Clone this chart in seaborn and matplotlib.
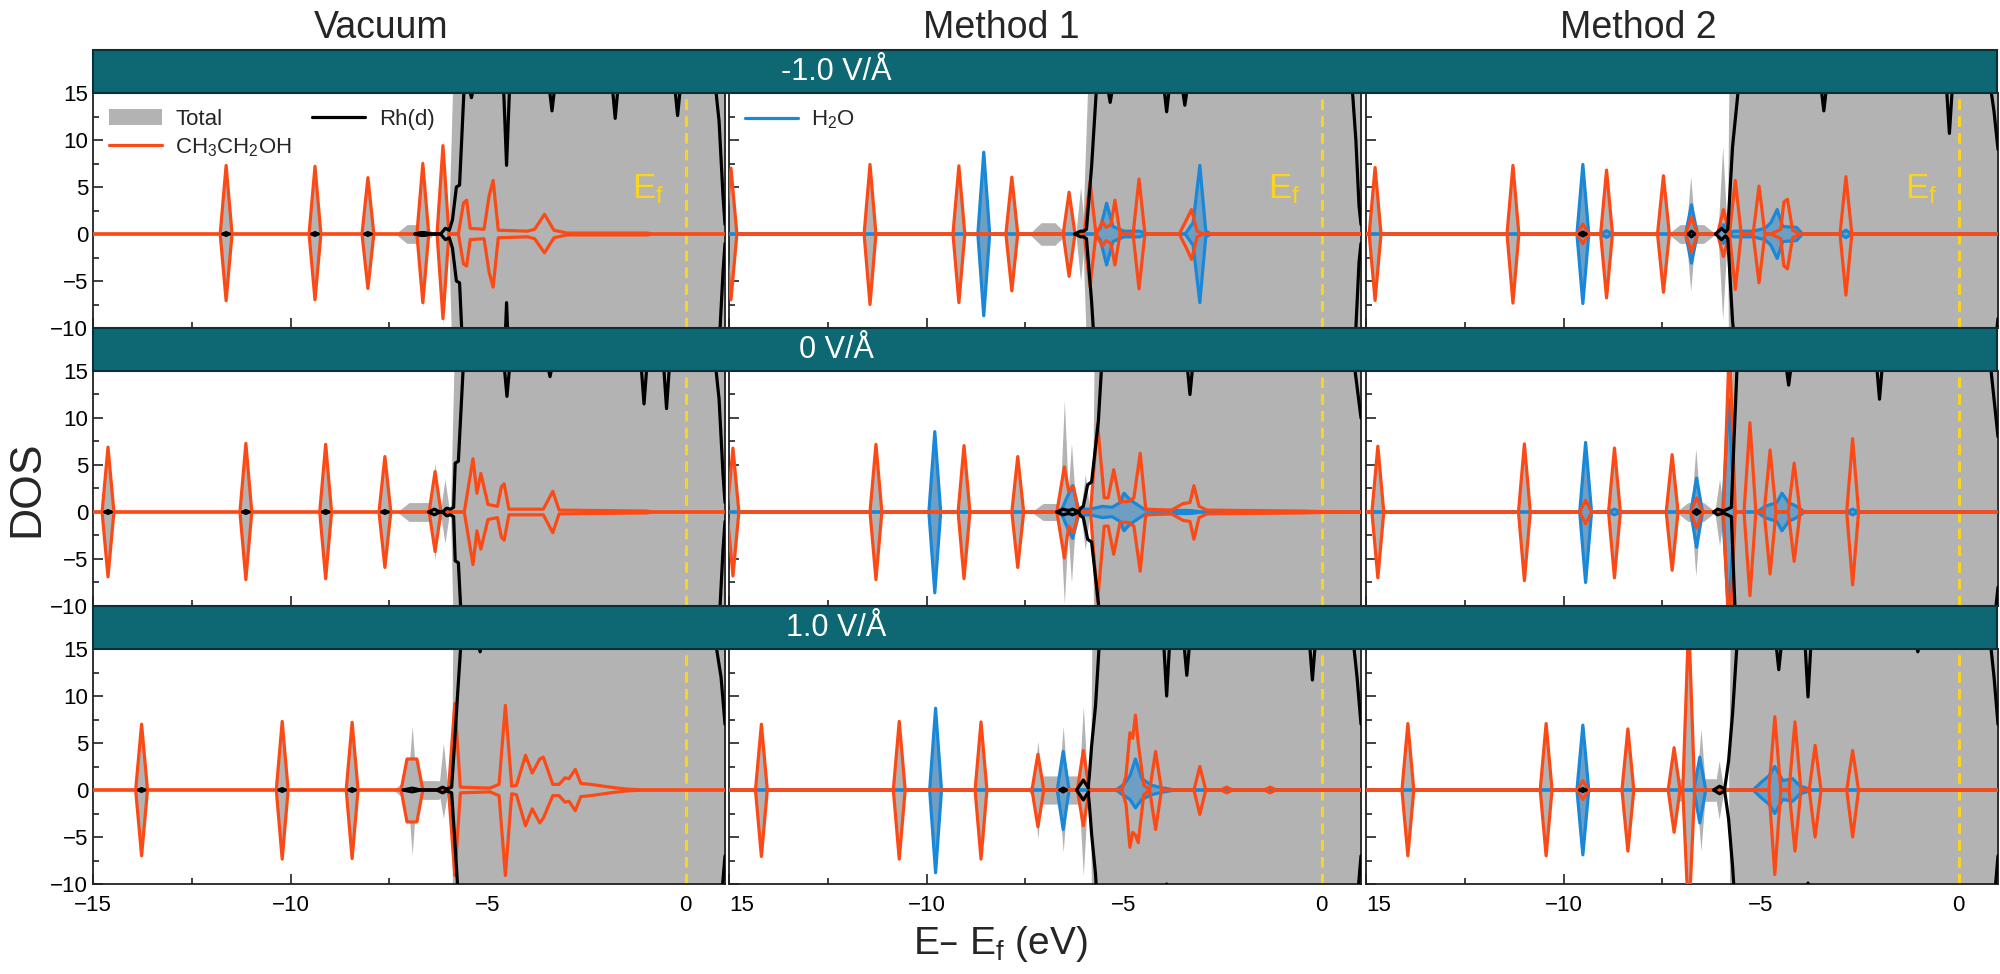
import numpy as np
import matplotlib
matplotlib.use("Agg")
import matplotlib.pyplot as plt
import matplotlib.transforms as mtransforms
from matplotlib.patches import Rectangle, Patch
from matplotlib.lines import Line2D
from matplotlib.ticker import MultipleLocator
import seaborn as sns

sns.set_theme(style="ticks")
plt.rcParams['font.family'] = ['Liberation Sans', 'DejaVu Sans']
plt.rcParams['mathtext.default'] = 'regular'

# labels
COLUMNS = ["Vacuum", "Method 1", "Method 2"]
FIELDS = ["-1.0 V/Å", "0 V/Å", "1.0 V/Å"]
XTICKS = [-15, -10, -5, 0]
XLABELS_FIRST = ["\u221215", "\u221210", "\u22125", "0"]
XLABELS_OTHER = ["15", "\u221210", "\u22125", "0"]

# peaks: (energy, spin up, spin down); bands: explicit vertices (energy, up, down)
# Rh(d): band vertices (energy, value) mirrored for spin down, dips from the top, small dots

# ---------- -1.0 V/A ----------
ETH_VAC_N = [(-11.63, 7.3, 7.1), (-9.38, 7.2, 7.0), (-8.04, 6.0, 5.8), (-6.65, 7.5, 7.3), (-6.14, 9.4, 9.0)]
ETH_VAC_N_BAND = [(-5.75, 0, 0), (-5.62, 3.3, 3.2), (-5.54, 3.6, 3.4), (-5.45, 0.6, 0.6), (-5.1, 0.5, 0.5),
                  (-4.97, 4.1, 4.1), (-4.87, 5.7, 5.65), (-4.74, 0.4, 0.4), (-4.0, 0.3, 0.3), (-3.82, 0.5, 0.5),
                  (-3.57, 2.1, 2.0), (-3.33, 0.4, 0.4), (-3.0, 0.1, 0.1), (-1.0, 0.1, 0.1), (-0.8, 0, 0)]
RH_VAC_N = [(-6.85, 0), (-6.7, 0.15), (-6.6, 0.15), (-6.45, 0), (-6.2, 0), (-6.08, 0.6), (-5.98, 0.4), (-5.9, 1.5),
            (-5.8, 5.0), (-5.72, 5.2), (-5.6, 16), (0.75, 16), (0.85, 12), (0.95, 4), (1.0, 1)]
RH_VAC_N_DIPS = [(-5.42, 14.5), (-4.53, 7.3), (-3.38, 13.1), (-1.78, 12.3), (-0.2, 12.6)]
RH_VAC_N_DOTS = [(-11.63, 0.15), (-9.38, 0.15), (-8.04, 0.15)]
GRAY_VAC_N = [(-6.14, 10.0, 9.6), (-6.65, 8.0, 7.8)]
HUMP_VAC_N = (-7.35, -6.35, 1.0)
EDGE_VAC_N = (-6.0, -5.8)

ETH_M1_N = [(-14.95, 7.0, 7.0), (-11.43, 7.4, 7.5), (-9.18, 7.25, 7.3), (-7.84, 6.05, 6.05), (-6.39, 4.45, 4.5),
            (-5.86, 5.6, 5.6), (-4.62, 5.85, 5.85)]
ETH_M1_N_BAND = [(-5.7, 0, 0), (-5.55, 1.3, 1.3), (-5.45, 0.7, 0.7), (-5.33, 1.0, 1.0), (-5.23, 3.6, 3.3), (-5.1, 0, 0),
                 (-3.6, 0, 0), (-3.42, 1.5, 1.5), (-3.29, 2.6, 2.7), (-3.15, 0.3, 0.3), (-3.0, 0, 0)]
H2O_M1_N = [(-8.55, 8.7, 8.7)]
H2O_M1_N_BAND = [(-5.75, 0, 0), (-5.6, 0.6, 0.6), (-5.44, 3.27, 3.3), (-5.28, 0.8, 0.8), (-5.0, 0.3, 0.3),
                 (-4.6, 0.3, 0.3), (-4.4, 0, 0), (-3.45, 0, 0), (-3.25, 1.2, 1.2), (-3.08, 7.3, 7.3),
                 (-2.93, 0.3, 0.3), (-2.8, 0, 0)]
RH_M1_N = [(-6.25, 0), (-6.1, 0.3), (-6.02, 0.3), (-5.95, 0.5), (-5.82, 7.2), (-5.69, 16), (0.77, 16), (0.87, 10),
           (0.95, 3), (1.0, 1)]
RH_M1_N_DIPS = [(-5.35, 14), (-3.92, 13.0), (-3.46, 13.7)]
RH_M1_N_DOTS = []
GRAY_M1_N = [(-6.1, 5.0, 5.0)]
HUMP_M1_N = (-7.4, -6.45, 1.2)
EDGE_M1_N = (-6.05, -5.8)

ETH_M2_N = [(-14.77, 7.07, 7.07), (-11.28, 7.3, 7.35), (-9.51, 1.06, 1.06), (-8.91, 6.8, 6.8), (-7.47, 6.2, 6.2),
            (-6.76, 1.8, 1.9), (-5.95, 2.6, 2.4), (-5.65, 5.7, 5.9), (-5.05, 5.1, 5.2), (-2.85, 6.1, 6.5)]
ETH_M2_N_BAND = [(-4.75, 0, 0), (-4.5, 0.5, 0.5), (-4.42, 3.4, 3.4), (-4.33, 3.7, 3.7), (-4.2, 0.4, 0.4), (-4.0, 0, 0)]
H2O_M2_N = [(-9.51, 7.4, 7.4), (-8.91, 0.35, 0.35), (-6.76, 3.1, 3.1), (-5.95, 1.0, 1.0), (-2.85, 0.4, 0.4)]
H2O_M2_N_BAND = [(-5.8, 0, 0), (-5.7, 0.3, 0.3), (-5.2, 0.3, 0.3), (-4.9, 0.6, 0.6), (-4.75, 1.2, 1.2),
                 (-4.59, 2.6, 2.6), (-4.45, 0.8, 0.8), (-4.1, 0.7, 0.7), (-3.95, 0, 0)]
RH_M2_N = [(-6.15, 0), (-6.0, 0.6), (-5.9, 0.2), (-5.84, 0.5), (-5.72, 9.3), (-5.56, 16), (0.8, 16), (0.9, 13),
           (1.0, 9)]
RH_M2_N_DIPS = [(-3.41, 13.1), (-0.23, 10.7)]
RH_M2_N_DOTS = [(-9.51, 0.2), (-6.76, 0.3)]
GRAY_M2_N = [(-6.78, 6.1, 6.1), (-5.97, 9.3, 9.1)]
HUMP_M2_N = (-7.35, -6.15, 1.0)
EDGE_M2_N = (-5.85, -5.78)

# ---------- 0 V/A ----------
ETH_VAC_Z = [(-14.62, 6.9, 6.9), (-11.13, 7.3, 7.2), (-9.11, 7.2, 7.1), (-7.61, 5.9, 5.9), (-6.34, 4.3, 4.2)]
ETH_VAC_Z_BAND = [(-5.6, 0, 0), (-5.38, 5.66, 5.6), (-5.28, 2.0, 2.0), (-5.18, 4.1, 3.95), (-5.0, 0.8, 0.8),
                  (-4.76, 0.6, 0.6), (-4.66, 2.7, 2.7), (-4.59, 3.0, 3.0), (-4.47, 0.3, 0.3), (-4.2, 0.3, 0.3),
                  (-3.6, 0.3, 0.3), (-3.36, 2.2, 2.2), (-3.2, 0.2, 0.2), (-1.0, 0.1, 0.1), (-0.8, 0, 0)]
RH_VAC_Z = [(-6.5, 0), (-6.36, 0.3), (-6.22, 0), (-6.15, 0), (-6.05, 0.4), (-5.95, 0.3), (-5.87, 0.5), (-5.83, 5.2),
            (-5.75, 5.4), (-5.62, 16), (0.75, 16), (0.85, 12), (0.95, 4), (1.0, 1)]
RH_VAC_Z_DIPS = [(-4.52, 12.3), (-3.43, 14.4), (-1.05, 11.5), (-0.48, 11.0)]
RH_VAC_Z_DOTS = [(-14.62, 0.15), (-11.13, 0.15), (-9.11, 0.15), (-7.61, 0.15)]
GRAY_VAC_Z = [(-6.34, 5.2, 5.1), (-6.09, 3.5, 3.3)]
HUMP_VAC_Z = (-7.3, -5.95, 1.0)
EDGE_VAC_Z = (-5.95, -5.78)

ETH_M1_Z = [(-14.9, 6.8, 6.8), (-11.28, 7.2, 7.2), (-9.05, 7.07, 7.1), (-7.69, 5.9, 5.9)]
ETH_M1_Z_BAND = [(-6.7, 0, 0), (-6.51, 4.8, 4.9), (-6.4, 2.2, 1.5), (-6.28, 2.7, 2.2), (-6.15, 0, 0), (-5.85, 0, 0),
                 (-5.67, 9.4, 9.5), (-5.5, 1.5, 1.5), (-5.4, 1.5, 1.5), (-5.26, 4.5, 4.5), (-5.1, 1.1, 1.1),
                 (-4.9, 1.1, 1.1), (-4.75, 1.5, 1.5), (-4.59, 6.25, 6.3), (-4.45, 0.3, 0.3), (-3.8, 0.2, 0.2),
                 (-3.5, 0.9, 0.9), (-3.33, 1.0, 1.0), (-3.23, 2.8, 2.9), (-3.1, 0.6, 0.6), (-2.9, 0.2, 0.2),
                 (-0.5, 0.1, 0.1), (0.5, 0, 0)]
H2O_M1_Z = [(-9.79, 8.55, 8.6)]
H2O_M1_Z_BAND = [(-6.6, 0, 0), (-6.45, 1.5, 1.5), (-6.3, 2.8, 2.8), (-6.15, 0.3, 0.3), (-5.85, 0.3, 0.3),
                 (-5.55, 0.6, 0.6), (-5.3, 0.5, 0.5), (-5.1, 1.0, 1.0), (-5.0, 2.0, 2.0), (-4.85, 1.3, 1.3),
                 (-4.6, 0.6, 0.6), (-4.45, 0.2, 0.2), (-3.3, 0.15, 0.15), (-3.0, 0, 0)]
RH_M1_Z = [(-6.7, 0), (-6.55, 0.3), (-6.4, 0.15), (-6.3, 0.3), (-6.15, 0), (-6.1, 0.4), (-6.03, 0.6), (-5.92, 2.9),
           (-5.82, 3.2), (-5.65, 9.6), (-5.56, 16), (0.75, 16), (0.85, 15), (1.0, 10)]
RH_M1_Z_DIPS = [(-3.33, 12.5)]
RH_M1_Z_DOTS = []
GRAY_M1_Z = [(-6.51, 11.9, 9.8), (-6.33, 7.3, 7.5), (-5.98, 4.0, 4.0)]
HUMP_M1_Z = (-7.35, -5.95, 0.9)
EDGE_M1_Z = (-5.8, -5.72)

ETH_M2_Z = [(-14.7, 7.0, 7.0), (-10.99, 7.25, 7.3), (-9.44, 1.25, 1.25), (-8.71, 6.8, 7.0), (-7.25, 6.1, 6.2),
            (-6.63, 1.5, 1.7), (-5.8, 18, 14), (-5.28, 9.5, 8.9), (-4.77, 6.6, 6.6), (-4.16, 5.2, 5.25),
            (-2.68, 7.8, 7.75)]
ETH_M2_Z_BAND = []
H2O_M2_Z = [(-9.44, 7.4, 7.5), (-8.71, 0.3, 0.3), (-6.63, 3.6, 3.75), (-5.82, 12, 11), (-2.68, 0.3, 0.3)]
H2O_M2_Z_BAND = [(-5.1, 0, 0), (-4.9, 0.6, 0.6), (-4.6, 1.0, 1.0), (-4.47, 2.0, 2.0), (-4.3, 1.0, 1.0),
                 (-4.1, 0.6, 0.6), (-3.9, 0, 0)]
RH_M2_Z = [(-6.2, 0), (-6.1, 0.3), (-5.95, 0.1), (-5.75, 0.5), (-5.68, 8), (-5.6, 16), (0.8, 16), (0.9, 12),
           (1.0, 8)]
RH_M2_Z_DIPS = [(-4.3, 13.5), (-2.0, 12)]
RH_M2_Z_DOTS = [(-6.63, 0.25)]
GRAY_M2_Z = [(-6.65, 6.8, 6.8), (-6.05, 3.5, 3.6)]
HUMP_M2_Z = (-7.15, -6.15, 1.0)
EDGE_M2_Z = (-5.78, -5.7)

# ---------- 1.0 V/A ----------
ETH_VAC_P = [(-13.77, 7.0, 7.0), (-10.21, 7.3, 7.35), (-8.44, 7.2, 7.3)]
ETH_VAC_P_BAND = [(-7.2, 0, 0), (-7.05, 3.3, 3.4), (-6.8, 3.3, 3.4), (-6.65, 0, 0), (-6.0, 0, 0), (-5.84, 9.2, 9.1),
                  (-5.7, 0.3, 0.3), (-4.95, 0.2, 0.2), (-4.72, 0.6, 0.6), (-4.56, 9.0, 9.1), (-4.4, 0.4, 0.4),
                  (-4.28, 0.5, 0.5), (-4.05, 3.7, 3.8), (-3.88, 1.8, 2.0), (-3.69, 3.3, 3.5), (-3.6, 3.5, 3.0),
                  (-3.36, 0.6, 0.6), (-3.2, 0.6, 0.6), (-3.05, 1.3, 1.3), (-2.95, 1.2, 1.2), (-2.79, 2.2, 2.2),
                  (-2.65, 0.7, 0.7), (-2.4, 0.6, 0.6), (-1.9, 0.3, 0.3), (-1.5, 0.1, 0.1), (-1.0, 0, 0)]
RH_VAC_P = [(-7.15, 0), (-6.92, 0.2), (-6.7, 0), (-6.3, 0), (-6.15, 0.3), (-6.05, 0.1), (-5.92, 0.3), (-5.85, 4.7),
            (-5.78, 9.5), (-5.68, 16), (0.75, 16), (0.9, 12), (1.0, 7)]
RH_VAC_P_DIPS = [(-5.2, 14.7)]
RH_VAC_P_DOTS = [(-13.77, 0.15), (-10.21, 0.15), (-8.44, 0.15)]
GRAY_VAC_P = [(-6.92, 6.8, 6.9), (-6.13, 5.0, 3.0)]
HUMP_VAC_P = (-7.4, -5.95, 1.0)
EDGE_VAC_P = (-5.92, -5.87)

ETH_M1_P = [(-14.18, 7.0, 7.07), (-10.69, 7.3, 7.35), (-8.62, 7.24, 7.35), (-7.18, 3.8, 3.9), (-6.03, 4.2, 3.8),
            (-4.2, 4.1, 4.2), (-3.08, 2.5, 2.6), (-2.4, 0.3, 0.3), (-1.3, 0.3, 0.3)]
ETH_M1_P_BAND = [(-5.05, 0, 0), (-4.95, 1.5, 1.5), (-4.85, 6.1, 6.1), (-4.78, 5.5, 4.5), (-4.71, 7.95, 4.8),
                 (-4.64, 5.0, 5.6), (-4.5, 0.5, 0.5), (-4.35, 0, 0)]
H2O_M1_P = [(-9.77, 8.7, 8.8), (-6.54, 4.1, 4.2)]
H2O_M1_P_BAND = [(-5.2, 0, 0), (-5.0, 0.6, 0.6), (-4.85, 1.5, 1.0), (-4.71, 3.3, 1.9), (-4.55, 1.2, 1.0),
                 (-4.3, 0.5, 0.5), (-4.0, 0.2, 0.2), (-3.7, 0, 0)]
RH_M1_P = [(-6.2, 0), (-6.03, 1.06), (-5.9, 0.2), (-5.82, 4.7), (-5.72, 9), (-5.62, 16), (0.8, 16), (0.9, 12),
           (1.0, 7)]
RH_M1_P_DIPS = [(-3.92, 10), (-3.41, 12.2), (-0.23, 11.7)]
RH_M1_P_DOTS = [(-6.54, 0.2)]
GRAY_M1_P = [(-7.18, 5.2, 5.2), (-6.54, 6.8, 6.6), (-6.03, 8.9, 9.1)]
HUMP_M1_P = (-7.45, -5.8, 1.5)
EDGE_M1_P = (-5.85, -5.78)

ETH_M2_P = [(-13.94, 7.07, 7.0), (-10.44, 7.07, 7.0), (-9.51, 1.0, 1.0), (-8.37, 6.5, 6.5), (-7.2, 4.5, 4.5),
            (-6.83, 18, 14), (-4.65, 7.8, 9.0), (-4.14, 7.25, 6.5), (-3.63, 4.75, 5.0), (-2.68, 4.2, 5.0)]
ETH_M2_P_BAND = []
H2O_M2_P = [(-9.51, 6.9, 6.9), (-6.55, 3.5, 3.5)]
H2O_M2_P_BAND = [(-5.2, 0, 0), (-5.0, 0.8, 0.8), (-4.8, 1.5, 1.5), (-4.65, 2.5, 2.5), (-4.45, 1.0, 1.0),
                 (-4.2, 1.2, 1.2), (-4.0, 0.4, 0.4), (-3.7, 0, 0)]
RH_M2_P = [(-6.2, 0), (-6.05, 0.4), (-5.92, 0.1), (-5.82, 3.1), (-5.72, 8.1), (-5.6, 16), (0.8, 16), (0.9, 12),
           (1.0, 7)]
RH_M2_P_DIPS = [(-4.55, 12.8), (-3.81, 9.9), (-1.03, 14.7)]
RH_M2_P_DOTS = [(-9.51, 0.15)]
GRAY_M2_P = [(-6.52, 6.5, 6.5), (-6.06, 3.1, 3.1)]
HUMP_M2_P = (-7.35, -5.85, 1.2)
EDGE_M2_P = (-5.82, -5.75)

PANELS = [
    [(ETH_VAC_N, ETH_VAC_N_BAND, [], [], RH_VAC_N, RH_VAC_N_DIPS, RH_VAC_N_DOTS, GRAY_VAC_N, HUMP_VAC_N, EDGE_VAC_N),
     (ETH_M1_N, ETH_M1_N_BAND, H2O_M1_N, H2O_M1_N_BAND, RH_M1_N, RH_M1_N_DIPS, RH_M1_N_DOTS, GRAY_M1_N, HUMP_M1_N, EDGE_M1_N),
     (ETH_M2_N, ETH_M2_N_BAND, H2O_M2_N, H2O_M2_N_BAND, RH_M2_N, RH_M2_N_DIPS, RH_M2_N_DOTS, GRAY_M2_N, HUMP_M2_N, EDGE_M2_N)],
    [(ETH_VAC_Z, ETH_VAC_Z_BAND, [], [], RH_VAC_Z, RH_VAC_Z_DIPS, RH_VAC_Z_DOTS, GRAY_VAC_Z, HUMP_VAC_Z, EDGE_VAC_Z),
     (ETH_M1_Z, ETH_M1_Z_BAND, H2O_M1_Z, H2O_M1_Z_BAND, RH_M1_Z, RH_M1_Z_DIPS, RH_M1_Z_DOTS, GRAY_M1_Z, HUMP_M1_Z, EDGE_M1_Z),
     (ETH_M2_Z, ETH_M2_Z_BAND, H2O_M2_Z, H2O_M2_Z_BAND, RH_M2_Z, RH_M2_Z_DIPS, RH_M2_Z_DOTS, GRAY_M2_Z, HUMP_M2_Z, EDGE_M2_Z)],
    [(ETH_VAC_P, ETH_VAC_P_BAND, [], [], RH_VAC_P, RH_VAC_P_DIPS, RH_VAC_P_DOTS, GRAY_VAC_P, HUMP_VAC_P, EDGE_VAC_P),
     (ETH_M1_P, ETH_M1_P_BAND, H2O_M1_P, H2O_M1_P_BAND, RH_M1_P, RH_M1_P_DIPS, RH_M1_P_DOTS, GRAY_M1_P, HUMP_M1_P, EDGE_M1_P),
     (ETH_M2_P, ETH_M2_P_BAND, H2O_M2_P, H2O_M2_P_BAND, RH_M2_P, RH_M2_P_DIPS, RH_M2_P_DOTS, GRAY_M2_P, HUMP_M2_P, EDGE_M2_P)],
]

GRAY = "#b3b3b3"
ORANGE = "#fc4a16"
BLUE = "#1a88d8"
TEAL = "#0e6873"
YELLOW = "#f9d423"
LW = 2.3

# layout in pixels (2000 x 974)
FW, FH = 2000, 974
LEFTS = [93, 729, 1366]
AX_W = 632
TOPS = [93, 371, 649]
AX_H = 235
BAN_H = 43
TITLE_X = [-7.7, -8.1, -8.1]


def curve(iso, band, hw=0.15):
    pts = [(-15.5, 0.0, 0.0), (1.5, 0.0, 0.0)]
    for e, up, dn in iso:
        pts += [(e - hw, 0.0, 0.0), (e, up, dn), (e + hw, 0.0, 0.0)]
    pts += [tuple(p) for p in band]
    pts.sort(key=lambda p: p[0])
    arr = np.array(pts, dtype=float)
    return arr[:, 0], arr[:, 1], arr[:, 2]


def rh_curve(band, dips):
    pts = [tuple(p) for p in band]
    for e, v in dips:
        pts += [(e - 0.08, 16.0), (e, v), (e + 0.08, 16.0)]
    pts.sort(key=lambda p: p[0])
    arr = np.array(pts, dtype=float)
    return arr[:, 0], arr[:, 1]


def line(ax, x, y, color, lw=LW, z=3):
    sns.lineplot(x=x, y=y, ax=ax, color=color, lw=lw, estimator=None, sort=False,
                 legend=False, zorder=z)


fig = plt.figure(figsize=(20, 9.74), dpi=100)

for r in range(3):
    for c in range(3):
        eth, eth_band, h2o, h2o_band, rh, dips, dots, gpk, hump, edge = PANELS[r][c]
        ax = fig.add_axes([LEFTS[c] / FW, 1 - (TOPS[r] + AX_H) / FH, AX_W / FW, AX_H / FH])

        # total DOS (gray)
        ax.fill_between([edge[0], edge[1], 1.5], [0, -30, -30], [0, 30, 30], color=GRAY, lw=0, zorder=1)
        lo, hi, lv = hump
        ax.fill_between([lo, lo + 0.3, hi - 0.3, hi], [0, -lv, -lv, 0], [0, lv, lv, 0],
                        color=GRAY, lw=0, zorder=1)
        for e, u, d in gpk:
            ax.fill_between([e - 0.12, e, e + 0.12], [0, -d, 0], [0, u, 0], color=GRAY, lw=0, zorder=1)

        ex, eu, ed = curve(eth, eth_band)
        ax.fill_between(ex, -ed, eu, color=GRAY, lw=0, zorder=1)

        has_h2o = bool(h2o or h2o_band)
        if has_h2o:
            hx, hu, hd = curve(h2o, h2o_band)
            ax.fill_between(hx, -hd, hu, color=GRAY, lw=0, zorder=1)
            ax.fill_between(hx, -hd, hu, color=BLUE, alpha=0.45, lw=0, zorder=2)

        ax.axvline(0, color=YELLOW, lw=2.2, ls=(0, (3.5, 2)), zorder=2.5)

        if has_h2o:
            line(ax, hx, hu, BLUE, z=3)
            line(ax, hx, -hd, BLUE, z=3)
        line(ax, ex, eu, ORANGE, z=4)
        line(ax, ex, -ed, ORANGE, z=4)

        # Rh(d): metal band plus tiny bumps under the adsorbate peaks
        rx, rv = rh_curve(rh, dips)
        line(ax, rx, rv, "black", z=5)
        line(ax, rx, -rv, "black", z=5)
        for e, h in dots:
            line(ax, np.array([e - 0.08, e, e + 0.08]), np.array([0, h, 0]), "black", z=5)
            line(ax, np.array([e - 0.08, e, e + 0.08]), np.array([0, -h, 0]), "black", z=5)

        ax.set_xlim(-15, 1)
        ax.set_ylim(-10, 15)
        ax.set_xlabel("")
        ax.set_ylabel("")
        ax.xaxis.set_minor_locator(MultipleLocator(2.5))
        ax.yaxis.set_major_locator(MultipleLocator(5))
        ax.yaxis.set_minor_locator(MultipleLocator(2.5))
        ax.set_xticks(XTICKS)
        ax.tick_params(which='both', direction='in', top=False, right=False, width=1.2,
                       colors='#222222', labelsize=16, labelcolor='black')
        ax.tick_params(which='major', length=7)
        ax.tick_params(which='minor', length=4)
        ax.tick_params(axis='x', pad=8)
        for s in ax.spines.values():
            s.set_linewidth(1.3)
            s.set_color('#222222')

        if c == 0:
            ax.set_yticks([-10, -5, 0, 5, 10, 15])
        else:
            ax.tick_params(labelleft=False)
        if r == 2:
            ax.set_xticklabels(XLABELS_FIRST if c == 0 else XLABELS_OTHER)
            if c > 0:
                ax.get_xticklabels()[0].set_ha('left')
        else:
            ax.tick_params(labelbottom=False)

        if r == 0:
            ax.text(-1.35, 3.8, "E$_f$", color=YELLOW, fontsize=25, zorder=6)
            trans = mtransforms.blended_transform_factory(ax.transData, fig.transFigure)
            ax.text(TITLE_X[c], 1 - 28 / FH, COLUMNS[c], transform=trans, ha='center', va='center',
                    fontsize=27)

        if r == 0 and c == 0:
            handles = [Patch(facecolor=GRAY, edgecolor='none'),
                       Line2D([], [], color=ORANGE, lw=LW),
                       Line2D([], [], color='black', lw=LW)]
            labels = ["Total", "CH$_3$CH$_2$OH", "Rh(d)"]
            ax.legend(handles, labels, loc='upper left', ncol=2, frameon=False, fontsize=16,
                      handlelength=2.4, handletextpad=0.6, columnspacing=0.9, labelspacing=0.3,
                      borderaxespad=0.3)
        if r == 0 and c == 1:
            ax.legend([Line2D([], [], color=BLUE, lw=LW)], ["H$_2$O"], loc='upper left', frameon=False,
                      fontsize=16, handlelength=2.4, handletextpad=0.6, borderaxespad=0.3)

# field banners
for r in range(3):
    top = TOPS[r] - BAN_H
    rect = Rectangle((LEFTS[0] / FW, 1 - TOPS[r] / FH), (1997 - LEFTS[0]) / FW, BAN_H / FH,
                     transform=fig.transFigure, facecolor=TEAL, edgecolor='#0a2f38', lw=1.5, zorder=10)
    fig.add_artist(rect)
    fig.text(0.418, 1 - (top + BAN_H / 2) / FH, FIELDS[r], color='white', fontsize=22,
             ha='center', va='center', zorder=11)

fig.text(0.0135, 0.498, "DOS", rotation=90, fontsize=32, ha='center', va='center')
fig.text(0.5, 1 - 944 / FH, "E\u2013 E$_f$ (eV)", fontsize=28, ha='center', va='center')

fig.savefig("out.png", dpi=100)
